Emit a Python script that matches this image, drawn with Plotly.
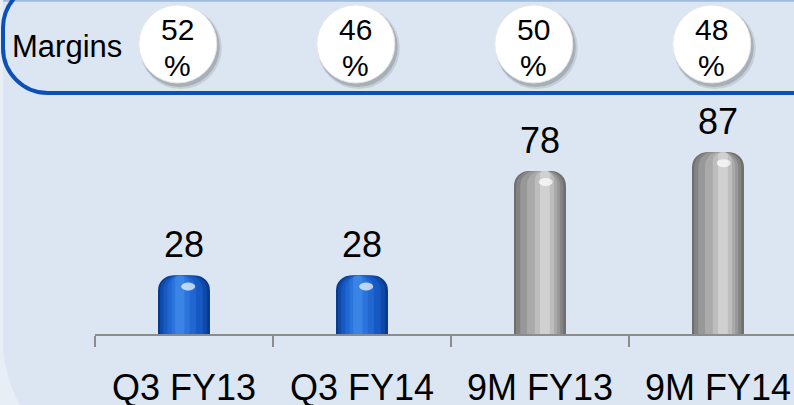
import plotly.graph_objects as go

categories = ["Q3 FY13", "Q3 FY14", "9M FY13", "9M FY14"]
values = [28, 28, 78, 87]
margins = [52, 46, 50, 48]
margin_label = "Margins"
groups = ["blue", "blue", "gray", "gray"]

FW, FH = 794, 405
FONT = "Arial, Liberation Sans, sans-serif"

def px(x):
    return x / FW

def py(y):
    return 1 - y / FH

BAR_W = 0.292  # category units
CORNER = 15    # px

# cylinder shading layers: (u0, u1, color)
layers = {
    "blue": [
        (0.00, 1.00, "#0a3a8c"),
        (0.04, 0.94, "#0f4aa8"),
        (0.10, 0.86, "#1659c2"),
        (0.18, 0.73, "#2067d2"),
        (0.26, 0.61, "#2b74dc"),
        (0.33, 0.51, "#3a84e6"),
    ],
    "gray": [
        (0.00, 1.00, "#6e6e6e"),
        (0.04, 0.95, "#838383"),
        (0.12, 0.89, "#989898"),
        (0.25, 0.83, "#aaaaaa"),
        (0.40, 0.77, "#bdbdbd"),
        (0.50, 0.69, "#d0d0d0"),
    ],
}
highlight_u = {"blue": 0.58, "gray": 0.61}

fig = go.Figure()
cat_px = 178.0
for g in ["blue", "gray"]:
    xs = [c for c, gg in zip(categories, groups) if gg == g]
    ys = [v for v, gg in zip(values, groups) if gg == g]
    for (u0, u1, col) in layers[g]:
        w = BAR_W * (u1 - u0)
        wpx = w * cat_px
        fig.add_trace(go.Bar(
            x=xs, y=ys, width=w, offset=-BAR_W / 2 + BAR_W * u0,
            marker=dict(color=col, line=dict(width=0),
                        cornerradius=min(CORNER, wpx / 2 - 0.5)),
            showlegend=False, hoverinfo="skip",
        ))

shapes = []
# background panel with rounded bottom-left corner
R = 133
k = 0.5523
x0p, ytop, ycorner = 3, 0, 340
panel_path = (
    f"M {px(x0p)},{py(ytop)} L {px(x0p)},{py(ycorner)} "
    f"C {px(x0p)},{py(ycorner + k*R)} {px(x0p + R - k*R)},{py(ycorner + R)} {px(x0p + R)},{py(ycorner + R)} "
    f"L {px(FW + 20)},{py(ycorner + R)} L {px(FW + 20)},{py(ytop)} Z"
)
shapes.append(dict(type="path", xref="paper", yref="paper", path=panel_path,
                   fillcolor="#dce6f2", line=dict(width=0), layer="below"))
# top thin border line
shapes.append(dict(type="line", xref="paper", yref="paper", x0=px(x0p), x1=1,
                   y0=py(0.8), y1=py(0.8), line=dict(color="#9fbbe2", width=2), layer="below"))

# margins box (rounded left end)
r = 45
bx, bbot, btop = 3, 93, -17
box_path = (
    f"M {px(FW + 20)},{py(bbot)} L {px(bx + r)},{py(bbot)} "
    f"C {px(bx + r - k*r)},{py(bbot)} {px(bx)},{py(bbot - r + k*r)} {px(bx)},{py(bbot - r)} "
    f"L {px(bx)},{py(btop + r)} "
    f"C {px(bx)},{py(btop + r - k*r)} {px(bx + r - k*r)},{py(btop)} {px(bx + r)},{py(btop)} "
    f"L {px(FW + 20)},{py(btop)}"
)
shapes.append(dict(type="path", xref="paper", yref="paper", path=box_path,
                   line=dict(color="#0b4fb8", width=4), layer="below"))

# specular highlights on bars
for i, (v, g) in enumerate(zip(values, groups)):
    shapes.append(dict(type="circle", xref="x", yref="y",
                       xsizemode="pixel", ysizemode="pixel",
                       xanchor=i - BAR_W / 2 + BAR_W * highlight_u[g], yanchor=v,
                       x0=-7, x1=7, y0=-15, y1=-7,
                       fillcolor="rgba(255,255,255,0.7)", line=dict(width=0)))

# margin circles
CIRC_Y = py(44)
CIRC_R = 39
CIRC_DX = -0.035
for i, m in enumerate(margins):
    for (dx, dy, rr, col) in [(3, -4, 41, "rgba(0,0,0,0.10)"), (2, -3, 40, "rgba(0,0,0,0.15)")]:
        shapes.append(dict(type="circle", xref="x", yref="paper",
                           xsizemode="pixel", ysizemode="pixel",
                           xanchor=i + CIRC_DX, yanchor=CIRC_Y,
                           x0=dx - rr, x1=dx + rr, y0=dy - rr, y1=dy + rr,
                           fillcolor=col, line=dict(width=0)))
    shapes.append(dict(type="circle", xref="x", yref="paper",
                       xsizemode="pixel", ysizemode="pixel",
                       xanchor=i + CIRC_DX, yanchor=CIRC_Y,
                       x0=-CIRC_R, x1=CIRC_R, y0=-CIRC_R, y1=CIRC_R,
                       fillcolor="white", line=dict(color="#e6e6e6", width=1)))

annotations = []
for i, m in enumerate(margins):
    annotations.append(dict(x=i + CIRC_DX, y=py(29), xref="x", yref="paper",
                            text=str(m), showarrow=False,
                            font=dict(family=FONT, size=30, color="black"),
                            xanchor="center", yanchor="middle"))
    annotations.append(dict(x=i + CIRC_DX, y=py(65), xref="x", yref="paper",
                            text="%", showarrow=False,
                            font=dict(family=FONT, size=30, color="black"),
                            xanchor="center", yanchor="middle"))
for c, v in zip(categories, values):
    annotations.append(dict(x=c, y=v, xref="x", yref="y", text=str(v),
                            showarrow=False, yanchor="bottom", yshift=8,
                            font=dict(family=FONT, size=36, color="black")))
annotations.append(dict(x=px(67), y=py(46), xref="paper", yref="paper",
                        text=margin_label, showarrow=False,
                        font=dict(family=FONT, size=31, color="black"),
                        xanchor="center", yanchor="middle"))

fig.update_layout(
    width=FW, height=FH,
    margin=dict(l=0, r=0, t=0, b=0, autoexpand=False),
    paper_bgcolor="#e8eef6",
    plot_bgcolor="rgba(0,0,0,0)",
    barmode="overlay",
    showlegend=False,
    shapes=shapes,
    annotations=annotations,
    xaxis=dict(type="category", categoryorder="array", categoryarray=categories,
               range=[-0.5, 3.427], domain=[px(95), 1], automargin=False,
               showline=True, linecolor="#8c8c8c", linewidth=2,
               ticks="outside", tickson="boundaries", ticklen=11,
               tickcolor="#8c8c8c", tickwidth=2, showgrid=False, zeroline=False,
               ticklabelstandoff=21,
               tickfont=dict(family=FONT, size=36, color="black")),
    yaxis=dict(range=[0, 334 / 2.09], domain=[71 / FH, 1], visible=False,
               automargin=False, showgrid=False, zeroline=False, fixedrange=True),
)

fig.write_html("out.html", config={"displayModeBar": False},
               post_script="document.body.style.margin='0';")
